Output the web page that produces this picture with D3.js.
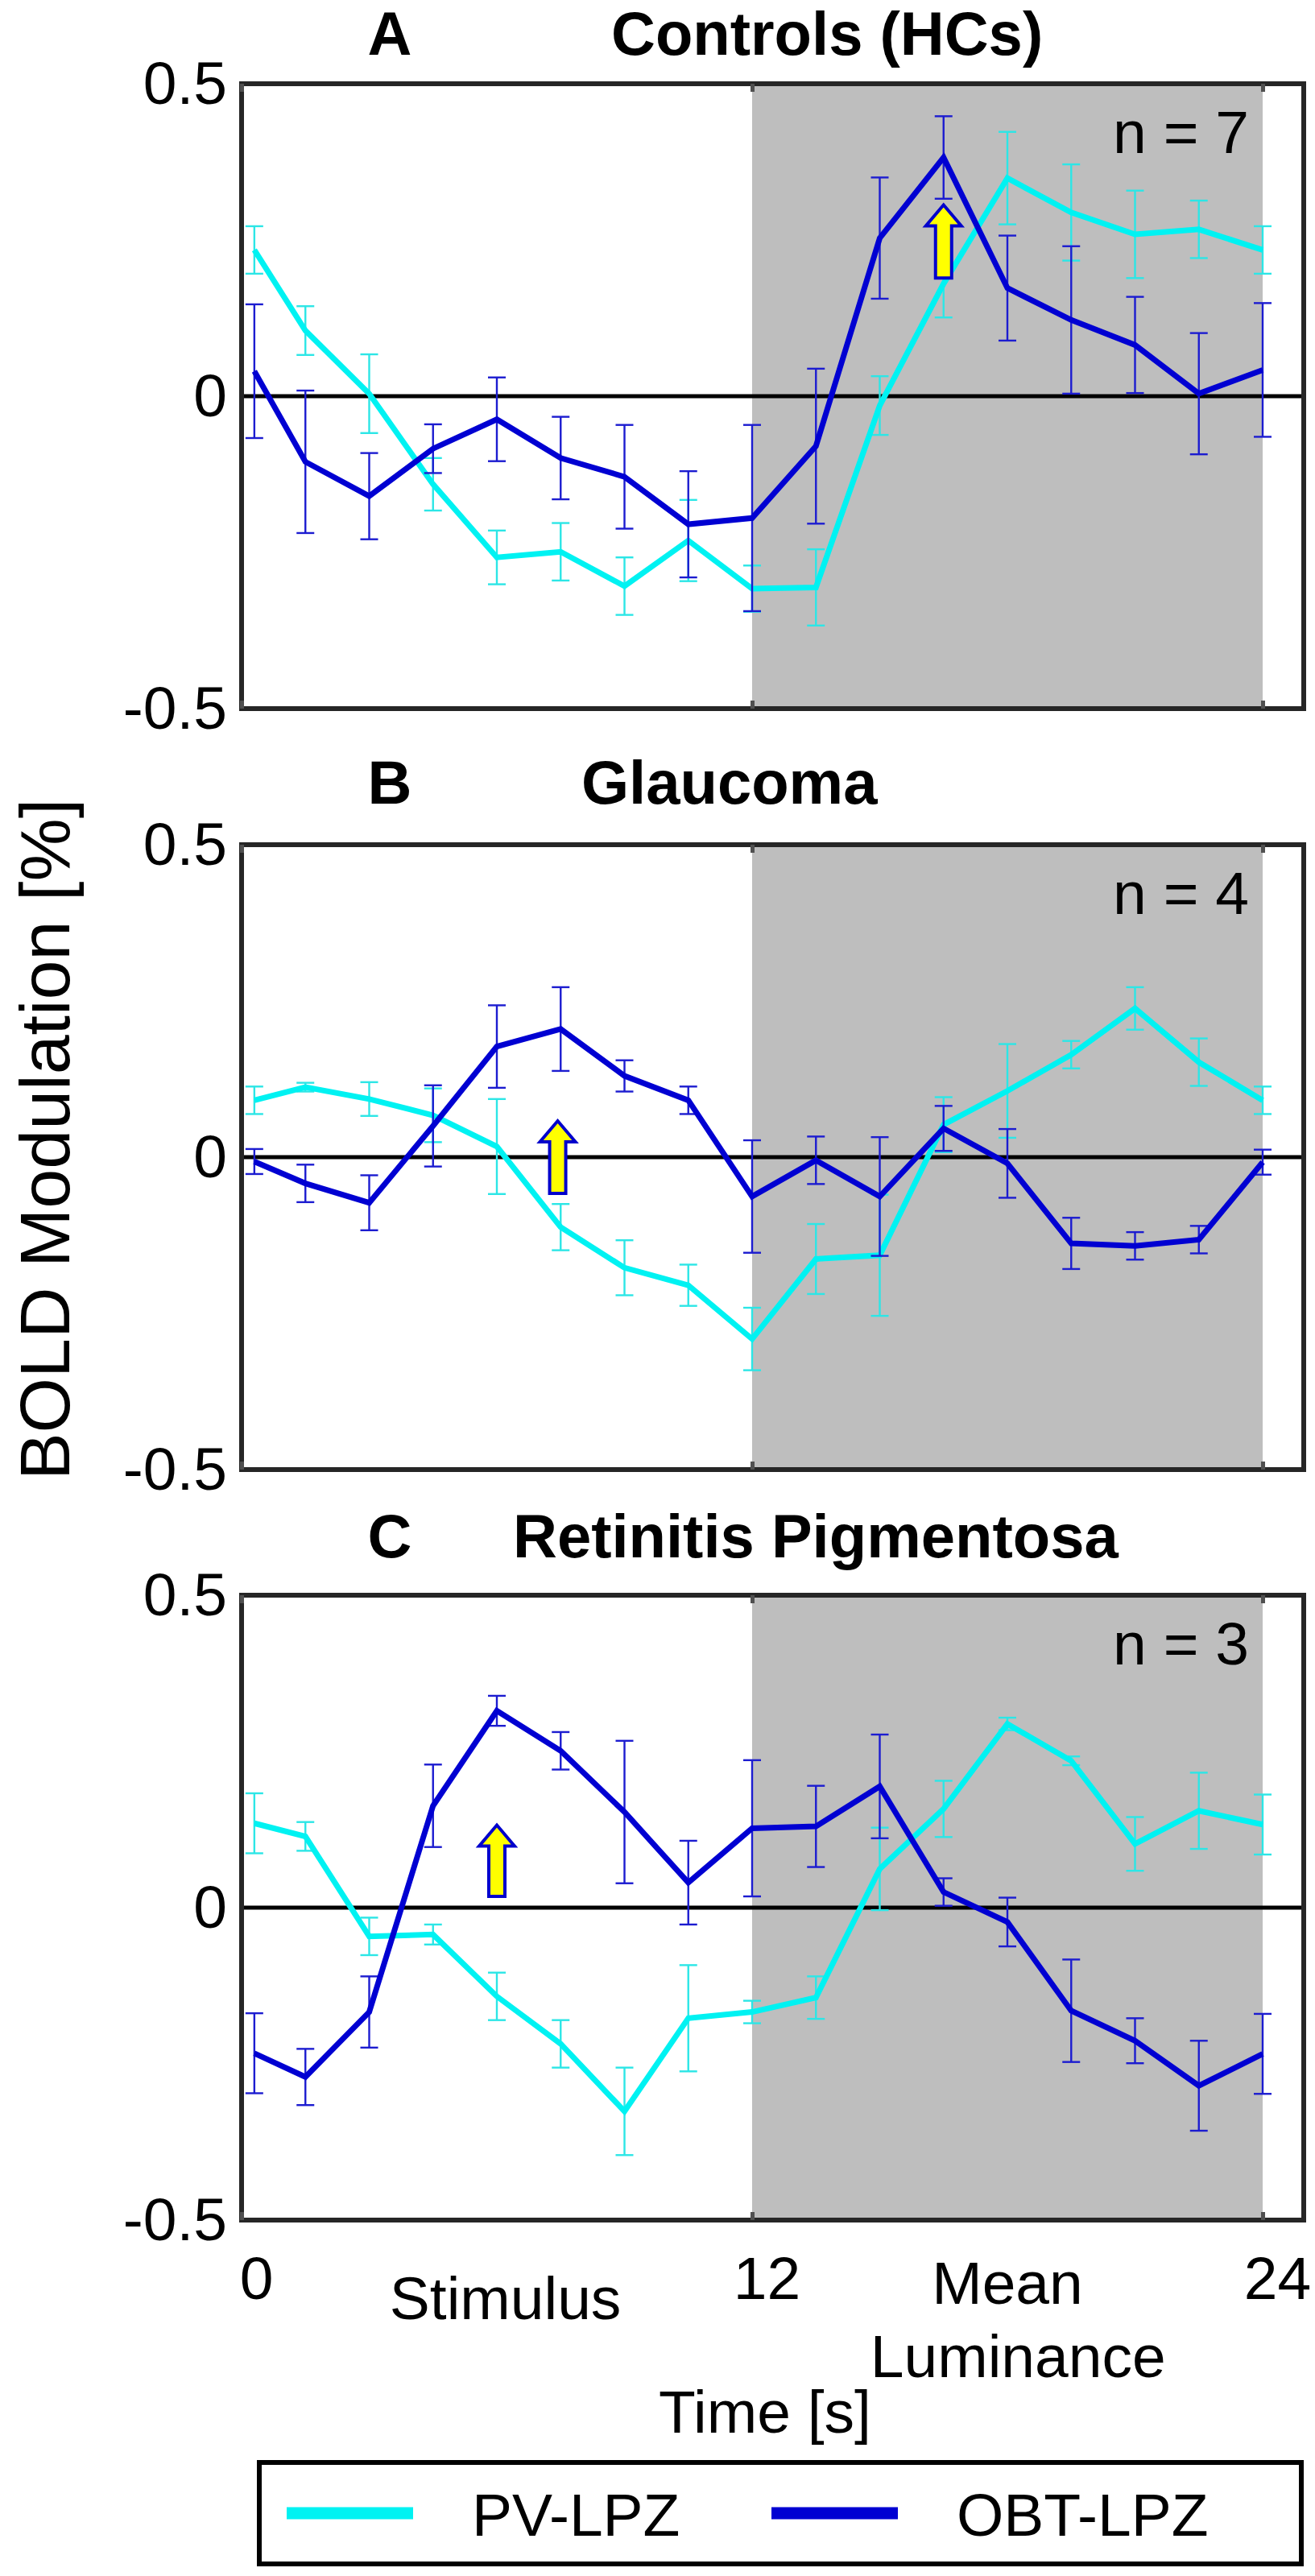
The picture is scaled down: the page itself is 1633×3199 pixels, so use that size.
<!DOCTYPE html>
<html>
<head>
<meta charset="utf-8">
<script src="https://cdn.jsdelivr.net/npm/d3@7"></script>
<style>
  body { margin: 0; background: #fff; }
  text { font-family: "Liberation Sans", Arial, sans-serif; fill: #000; }
</style>
</head>
<body>
<svg id="chart"></svg>
<script>
// time points [s]
var time = [0.3, 1.5, 3, 4.5, 6, 7.5, 9, 10.5, 12, 13.5, 15, 16.5, 18, 19.5, 21, 22.5, 24];

var groupLetters = ["A", "B", "C"];
var groupTitles = ["Controls (HCs)", "Glaucoma", "Retinitis Pigmentosa"];
var groupN = ["n = 7", "n = 4", "n = 3"];
var seriesNames = ["PV-LPZ", "OBT-LPZ"];

// A - controls
var pvA     = [0.234, 0.105, 0.004, -0.141, -0.258, -0.249, -0.304, -0.231, -0.308, -0.306, -0.015, 0.180, 0.349, 0.294, 0.259, 0.267, 0.234];
var pvErrA  = [0.038, 0.039, 0.063, 0.042, 0.043, 0.046, 0.046, 0.065, 0.037, 0.061, 0.047, 0.054, 0.074, 0.077, 0.070, 0.046, 0.038];
var obtA    = [0.040, -0.105, -0.160, -0.084, -0.037, -0.099, -0.129, -0.205, -0.195, -0.080, 0.253, 0.382, 0.173, 0.122, 0.082, 0.004, 0.042];
var obtErrA = [0.107, 0.114, 0.069, 0.039, 0.067, 0.066, 0.083, 0.085, 0.149, 0.124, 0.097, 0.066, 0.084, 0.118, 0.077, 0.097, 0.107];

// B - glaucoma
var pvB     = [0.091, 0.112, 0.093, 0.067, 0.017, -0.112, -0.177, -0.205, -0.291, -0.163, -0.157, 0.052, 0.106, 0.164, 0.238, 0.152, 0.091];
var pvErrB  = [0.022, 0.007, 0.027, 0.043, 0.076, 0.037, 0.044, 0.033, 0.050, 0.056, 0.097, 0.044, 0.075, 0.022, 0.034, 0.038, 0.022];
var obtB    = [-0.007, -0.042, -0.073, 0.050, 0.177, 0.205, 0.130, 0.091, -0.063, -0.005, -0.063, 0.046, -0.010, -0.138, -0.142, -0.132, -0.008];
var obtErrB = [0.020, 0.030, 0.044, 0.065, 0.066, 0.067, 0.025, 0.022, 0.090, 0.038, 0.095, 0.036, 0.055, 0.041, 0.022, 0.022, 0.020];

// C - retinitis pigmentosa
var pvC     = [0.135, 0.114, -0.046, -0.043, -0.142, -0.218, -0.326, -0.177, -0.167, -0.144, 0.062, 0.158, 0.294, 0.235, 0.102, 0.155, 0.133];
var pvErrC  = [0.048, 0.023, 0.030, 0.016, 0.038, 0.038, 0.070, 0.085, 0.018, 0.034, 0.066, 0.045, 0.010, 0.007, 0.043, 0.061, 0.048];
var obtC    = [-0.233, -0.271, -0.167, 0.163, 0.315, 0.251, 0.153, 0.040, 0.127, 0.130, 0.194, 0.025, -0.023, -0.165, -0.213, -0.285, -0.234];
var obtErrC = [0.064, 0.045, 0.057, 0.066, 0.024, 0.030, 0.114, 0.067, 0.109, 0.065, 0.083, 0.022, 0.039, 0.082, 0.036, 0.072, 0.064];

// yellow arrows: time, base and tip value
var arrowX    = [16.5, 7.43, 6.0];
var arrowFrom = [0.189, -0.058, 0.018];
var arrowTo   = [0.306, 0.058, 0.132];

var yTicks = [-0.5, 0, 0.5];
var yTickLabels = ["-0.5", "0", "0.5"];
var xTicks = [0, 12, 24];
var meanLumStart = 12, meanLumEnd = 24;

var svgWidth = 1633, svgHeight = 3199;
var left = 300, right = 1619, panelH = 776;
var panelTop = [104, 1049, 1981];
var titleBase = [68, 998, 1934];
var titleX = [759, 722, 637];
var colors = ["#00f2f2", "#0000d2"];
var errColors = ["#2ce6e6", "#1c1cd0"];

var panels = [
  { pv: pvA, pvErr: pvErrA, obt: obtA, obtErr: obtErrA },
  { pv: pvB, pvErr: pvErrB, obt: obtB, obtErr: obtErrB },
  { pv: pvC, pvErr: pvErrC, obt: obtC, obtErr: obtErrC }
];

var svg = d3.select("#chart")
    .attr("width", svgWidth)
    .attr("height", svgHeight);

var xScale = d3.scaleLinear()
    .domain([0, 24])
    .range([left, 1568]);

panels.forEach(function (p, i) {
  var top = panelTop[i];
  var yScale = d3.scaleLinear()
      .domain([-0.5, 0.5])
      .range([top + panelH, top]);

  var g = svg.append("g");

  // mean luminance block
  g.append("rect")
      .attr("x", xScale(meanLumStart))
      .attr("y", top)
      .attr("width", xScale(meanLumEnd) - xScale(meanLumStart))
      .attr("height", panelH)
      .attr("fill", "#bebebe");

  g.append("line")
      .attr("x1", left).attr("x2", right)
      .attr("y1", yScale(0)).attr("y2", yScale(0))
      .attr("stroke", "#000")
      .attr("stroke-width", 5);

  var series = [
    { mean: p.pv, err: p.pvErr },
    { mean: p.obt, err: p.obtErr }
  ];

  series.forEach(function (s, k) {
    var pts = time.map(function (t, j) {
      return { t: t, m: s.mean[j], e: s.err[j] };
    });

    var eb = g.append("g")
        .attr("stroke", errColors[k])
        .attr("stroke-width", 2.4);

    eb.selectAll(".bar")
        .data(pts)
        .enter()
        .append("line")
        .attr("x1", function (d) { return xScale(d.t); })
        .attr("x2", function (d) { return xScale(d.t); })
        .attr("y1", function (d) { return yScale(d.m + d.e); })
        .attr("y2", function (d) { return yScale(d.m - d.e); });

    [1, -1].forEach(function (sgn) {
      eb.selectAll(".cap" + sgn)
          .data(pts)
          .enter()
          .append("line")
          .attr("x1", function (d) { return xScale(d.t) - 11; })
          .attr("x2", function (d) { return xScale(d.t) + 11; })
          .attr("y1", function (d) { return yScale(d.m + sgn * d.e); })
          .attr("y2", function (d) { return yScale(d.m + sgn * d.e); });
    });

    var line = d3.line()
        .x(function (d) { return xScale(d.t); })
        .y(function (d) { return yScale(d.m); });

    g.append("path")
        .datum(pts)
        .attr("d", line)
        .attr("fill", "none")
        .attr("stroke", colors[k])
        .attr("stroke-width", 7)
        .attr("stroke-linejoin", "miter");
  });

  // arrow
  var ax = xScale(arrowX[i]), yb = yScale(arrowFrom[i]), yt = yScale(arrowTo[i]);
  var arrowPts = [
    [ax - 10, yb], [ax - 10, yt + 26], [ax - 22, yt + 26], [ax, yt],
    [ax + 22, yt + 26], [ax + 10, yt + 26], [ax + 10, yb]
  ];
  g.append("path")
      .attr("d", d3.line()(arrowPts) + "Z")
      .attr("fill", "#ffff00")
      .attr("stroke", "#0000cc")
      .attr("stroke-width", 4)
      .attr("stroke-linejoin", "miter");

  // frame
  g.append("rect")
      .attr("x", left)
      .attr("y", top)
      .attr("width", right - left)
      .attr("height", panelH)
      .attr("fill", "none")
      .attr("stroke", "#262626")
      .attr("stroke-width", 6);

  // small inner ticks top and bottom
  var topAxis = g.append("g")
      .attr("transform", "translate(0," + top + ")")
      .call(d3.axisTop(xScale).tickValues(xTicks).tickSize(-10).tickFormat(""));
  var botAxis = g.append("g")
      .attr("transform", "translate(0," + (top + panelH) + ")")
      .call(d3.axisBottom(xScale).tickValues(xTicks).tickSize(-10).tickFormat(""));
  [topAxis, botAxis].forEach(function (a) {
    a.select(".domain").remove();
    a.selectAll("line").attr("stroke", "#505050").attr("stroke-width", 5);
  });

  // y axis labels
  var yAxis = g.append("g")
      .attr("transform", "translate(" + (left - 18) + ",0)")
      .call(d3.axisLeft(yScale).tickValues(yTicks).tickSize(0).tickPadding(0)
        .tickFormat(function (d, j) { return yTickLabels[j]; }));
  yAxis.select(".domain").remove();
  yAxis.selectAll("text")
      .attr("font-size", 75)
      .attr("font-family", "Liberation Sans, Arial, sans-serif")
      .attr("fill", "#000");

  // titles
  g.append("text")
      .attr("x", 484)
      .attr("y", titleBase[i])
      .attr("text-anchor", "middle")
      .attr("font-size", 76)
      .attr("font-weight", "bold")
      .text(groupLetters[i]);
  g.append("text")
      .attr("x", titleX[i])
      .attr("y", titleBase[i])
      .attr("font-size", 76)
      .attr("font-weight", "bold")
      .text(groupTitles[i]);

  g.append("text")
      .attr("x", 1551)
      .attr("y", top + 86)
      .attr("text-anchor", "end")
      .attr("font-size", 75)
      .text(groupN[i]);

  if (i === panels.length - 1) {
    var xAxis = g.append("g")
        .attr("transform", "translate(0," + (top + panelH) + ")")
        .call(d3.axisBottom(xScale).tickValues(xTicks).tickSize(0).tickPadding(45));
    xAxis.select(".domain").remove();
    xAxis.selectAll("text")
        .attr("x", 18)
        .attr("font-size", 75)
        .attr("font-family", "Liberation Sans, Arial, sans-serif")
        .attr("fill", "#000");
  }
});

// phase labels and axis titles
svg.append("text")
    .attr("x", xScale(6.2)).attr("y", 2880)
    .attr("text-anchor", "middle").attr("font-size", 75)
    .text("Stimulus");
svg.append("text")
    .attr("x", xScale(18)).attr("y", 2861)
    .attr("text-anchor", "middle").attr("font-size", 75)
    .text("Mean");
svg.append("text")
    .attr("x", xScale(18.25)).attr("y", 2952)
    .attr("text-anchor", "middle").attr("font-size", 75)
    .text("Luminance");
svg.append("text")
    .attr("x", 950).attr("y", 3021)
    .attr("text-anchor", "middle").attr("font-size", 75)
    .text("Time [s]");

svg.append("text")
    .attr("transform", "translate(86,1415) rotate(-90)")
    .attr("text-anchor", "middle")
    .attr("font-size", 88)
    .text("BOLD Modulation [%]");

// legend
var legend = svg.append("g");
legend.append("rect")
    .attr("x", 322).attr("y", 3058)
    .attr("width", 1294).attr("height", 126)
    .attr("fill", "#fff")
    .attr("stroke", "#000")
    .attr("stroke-width", 6);

var legendX = [356, 958];
legend.selectAll(".lg")
    .data(seriesNames)
    .enter()
    .append("line")
    .attr("x1", function (d, i) { return legendX[i]; })
    .attr("x2", function (d, i) { return legendX[i] + 157; })
    .attr("y1", 3121).attr("y2", 3121)
    .attr("stroke", function (d, i) { return colors[i]; })
    .attr("stroke-width", 15);

legend.selectAll(".lt")
    .data(seriesNames)
    .enter()
    .append("text")
    .attr("x", function (d, i) { return legendX[i] + 230; })
    .attr("y", 3149)
    .attr("font-size", 75)
    .text(function (d) { return d; });
</script>
</body>
</html>
